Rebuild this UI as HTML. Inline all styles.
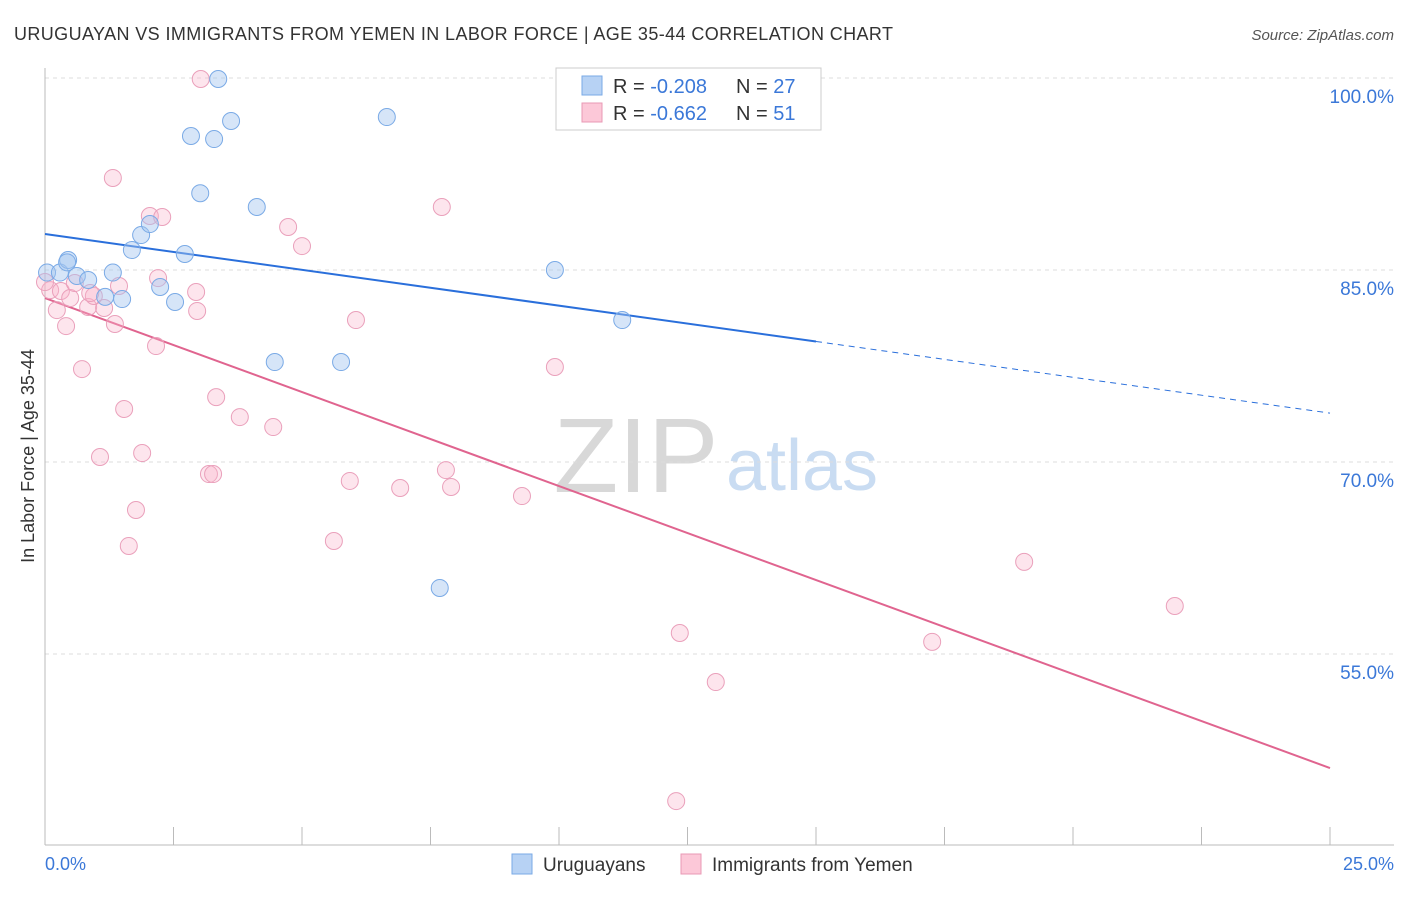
<!DOCTYPE html>
<html><head><meta charset="utf-8"><style>
body{margin:0;background:#fff;font-family:"Liberation Sans",sans-serif}
svg text{font-family:"Liberation Sans",sans-serif}
</style></head><body>
<svg id="chart" width="1406" height="892">
<text x="14" y="40" font-size="18" fill="#333" textLength="879" lengthAdjust="spacing">URUGUAYAN VS IMMIGRANTS FROM YEMEN IN LABOR FORCE | AGE 35-44 CORRELATION CHART</text>
<text x="1394" y="40" font-size="15" fill="#555" font-style="italic" text-anchor="end">Source: ZipAtlas.com</text>
<g><text x="636" y="492" font-size="106" fill="#d8d8d8" font-family="Liberation Serif" text-anchor="middle">ZIP</text><text x="802" y="490" font-size="72" fill="#c9dcf2" text-anchor="middle">atlas</text></g>
<g id="grid"></g><g id="axes"></g><g id="lines"></g><g id="pts"></g>
<text transform="translate(34,456) rotate(-90)" font-size="18" fill="#333" text-anchor="middle">In Labor Force | Age 35-44</text>
<text x="45" y="870" font-size="18" fill="#3b78d8">0.0%</text>
<text x="1394" y="870" font-size="18" fill="#3b78d8" text-anchor="end">25.0%</text>
<g>
<rect x="556" y="68" width="265" height="62" fill="#fff" stroke="#ccc"/>
<rect x="582" y="76" width="20" height="19" fill="#b7d2f4" stroke="#7aaae6"/>
<rect x="582" y="103" width="20" height="19" fill="#fcc8d8" stroke="#e899b5"/>
<text x="613" y="93" font-size="20" fill="#333">R = <tspan fill="#3b78d8">-0.208</tspan></text>
<text x="736" y="93" font-size="20" fill="#333">N = <tspan fill="#3b78d8">27</tspan></text>
<text x="613" y="120" font-size="20" fill="#333">R = <tspan fill="#3b78d8">-0.662</tspan></text>
<text x="736" y="120" font-size="20" fill="#333">N = <tspan fill="#3b78d8"> 51</tspan></text>
</g>
<g>
<rect x="512" y="854" width="20" height="20" fill="#b7d2f4" stroke="#7aaae6"/>
<text x="543" y="871" font-size="19" fill="#333">Uruguayans</text>
<rect x="681" y="854" width="20" height="20" fill="#fcc8d8" stroke="#e899b5"/>
<text x="712" y="871" font-size="19" fill="#333">Immigrants from Yemen</text>
</g>
</svg>
<script>
const yTicks=[100,85,70,55];
const yTickLabels=["100.0%","85.0%","70.0%","55.0%"];
const blueX=[0.04,0.29,0.45,0.62,0.84,0.43,1.17,1.32,1.50,1.69,1.87,2.04,2.24,2.53,2.72,2.84,3.02,3.29,3.37,3.62,4.12,4.47,5.76,6.65,7.68,9.92,11.23];
const blueY=[84.8,84.8,85.78,84.53,84.22,85.6,82.9,84.8,82.73,86.56,87.73,88.59,83.67,82.5,86.25,95.47,91.0,95.23,99.92,96.64,89.92,77.81,77.81,96.95,60.16,85.0,81.09];
const pinkX=[0.10,0.23,0.31,0.41,0.49,0.58,0.72,0.84,0.95,1.07,1.15,1.32,1.36,1.44,1.54,1.63,1.77,1.89,2.04,2.16,2.20,2.28,2.94,2.96,3.03,3.19,3.27,3.33,3.79,4.44,4.73,5.0,5.62,5.93,6.05,6.91,7.72,7.80,7.90,9.28,9.92,12.28,12.35,13.05,17.26,19.05,21.98,0.0,0.88];
const pinkY=[83.43,81.87,83.36,80.62,82.81,83.98,77.26,82.11,82.97,70.39,82.03,92.19,80.78,83.75,74.14,63.44,66.25,70.7,89.22,79.06,84.37,89.14,83.28,81.8,99.92,69.06,69.06,75.07,73.51,72.73,88.36,86.87,63.83,68.52,81.09,67.97,89.92,69.37,68.05,67.34,77.42,43.51,56.64,52.81,55.95,62.2,58.75,84.06,83.2];
const blueTrend=[87.81,73.82], blueSolidEnd=15.0;
const pinkTrend=[82.81,46.09];
const NS="http://www.w3.org/2000/svg";
const X=v=>45+v/25*1285, Y=v=>78+(100-v)*12.8;
function mk(p,t,a){const e=document.createElementNS(NS,t);for(const k in a)e.setAttribute(k,a[k]);document.getElementById(p).appendChild(e);return e;}
yTicks.forEach((t,i)=>{
 const l=mk('grid','line',{x1:45,x2:1394,y1:Y(t),y2:Y(t),stroke:'#ddd','stroke-dasharray':'4,4'});
 
 
 const tx=mk('grid','text',{x:1394,y:Y(t)+25,'font-size':19,fill:'#3b78d8','text-anchor':'end'});
 tx.textContent=yTickLabels[i];
 
 
});
const ax=mk('axes','line',{x1:45,x2:45,y1:68,y2:845,stroke:'#bbb'});


const bx=mk('axes','line',{x1:45,x2:1394,y1:845,y2:845,stroke:'#bbb'});


for(let i=0;i<=10;i++){const t=mk('axes','line',{x1:X(i*2.5),x2:X(i*2.5),y1:827,y2:845,stroke:'#bbb'});
 
 }
const yb=x=>blueTrend[0]+(blueTrend[1]-blueTrend[0])*x/25;
let l1=mk('lines','line',{x1:X(0),y1:Y(yb(0)),x2:X(blueSolidEnd),y2:Y(yb(blueSolidEnd)),stroke:'#2a6fdb','stroke-width':2});


let l2=mk('lines','line',{x1:X(blueSolidEnd),y1:Y(yb(blueSolidEnd)),x2:X(25),y2:Y(yb(25)),stroke:'#2a6fdb','stroke-width':1,'stroke-dasharray':'6,5'});


let l3=mk('lines','line',{x1:X(0),y1:Y(pinkTrend[0]),x2:X(25),y2:Y(pinkTrend[1]),stroke:'#e0648f','stroke-width':2});


pinkX.forEach((x,i)=>{const c=mk('pts','circle',{cx:X(x),cy:Y(pinkY[i]),r:8.5,fill:'rgba(248,180,202,0.35)',stroke:'#eaa0bb','stroke-width':1});
 
 });
blueX.forEach((x,i)=>{const c=mk('pts','circle',{cx:X(x),cy:Y(blueY[i]),r:8.5,fill:'rgba(165,198,240,0.45)',stroke:'#7aaae6','stroke-width':1});
 
 });
</script>
</body></html>
